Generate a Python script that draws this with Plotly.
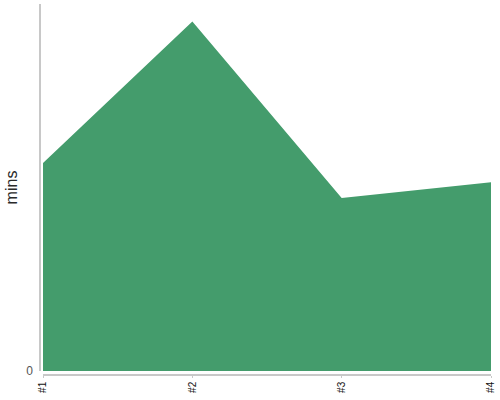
import plotly.graph_objects as go

categories = ["#1", "#2", "#3", "#4"]
mins = [11.9, 20.0, 9.9, 10.8]

fig = go.Figure()
fig.add_trace(go.Scatter(
    x=categories, y=mins, mode="lines", fill="tozeroy",
    line=dict(width=0, color="#449c6c"), fillcolor="#449c6c",
    hoverinfo="skip", showlegend=False,
))

fig.update_layout(
    width=500, height=400,
    margin=dict(l=40, r=9, t=4, b=25),
    paper_bgcolor="white", plot_bgcolor="white",
    font=dict(family="Liberation Sans, Arial, sans-serif"),
    xaxis=dict(
        domain=[0.0067, 1], anchor="free", position=0, automargin=False,
        showline=True, linecolor="#c8c8c8", linewidth=1.5,
        showgrid=False, zeroline=False,
        tickangle=-90, tickfont=dict(size=10, color="#111"),
        range=[0, 3], ticks="outside", ticklen=2, tickcolor="#c8c8c8",
    ),
    yaxis=dict(
        domain=[0.0108, 1], anchor="free", position=0, automargin=False,
        showline=True, linecolor="#c8c8c8", linewidth=1.5,
        showgrid=False, zeroline=False,
        range=[0, 21], tickvals=[0], ticktext=["0"],
        ticks="outside", ticklen=4, tickcolor="rgba(0,0,0,0)",
        tickfont=dict(size=12, color="#555"),
        title=dict(text="mins", font=dict(size=16, color="#2a2a2a"), standoff=4),
    ),
)

fig.write_html(
    "out.html",
    config={"displayModeBar": False},
    post_script="document.body.style.margin='0';document.body.style.overflow='hidden';",
)
